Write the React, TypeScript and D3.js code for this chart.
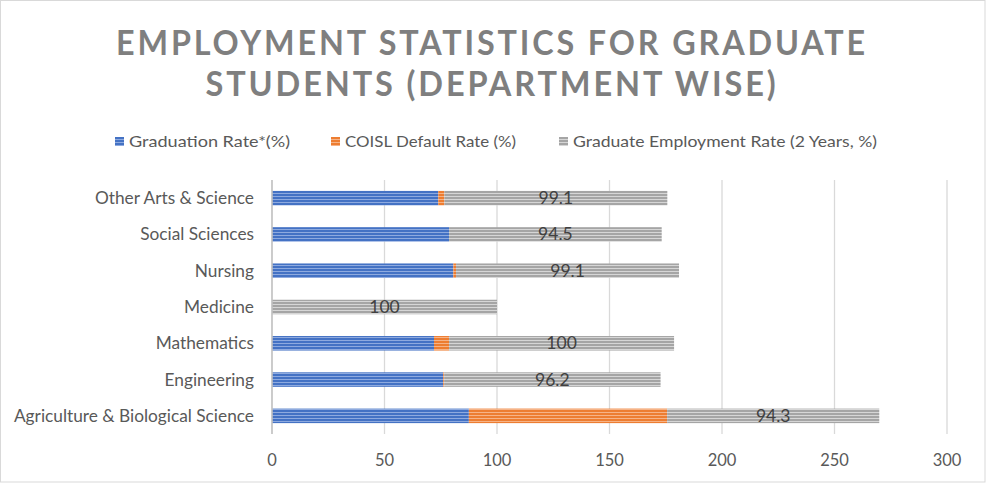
import React, { useRef, useEffect } from 'react';
import * as d3 from 'd3';

// chart data, bottom row first
const categories = [
  'Agriculture & Biological Science',
  'Engineering',
  'Mathematics',
  'Medicine',
  'Nursing',
  'Social Sciences',
  'Other Arts & Science',
];
const graduationRate = [87.5, 76.1, 72, 0, 80.6, 78.7, 73.9];
const defaultRate = [88.1, 0.4, 6.7, 0, 1.2, 0, 2.7];
const employmentRate = [94.3, 96.2, 100, 100, 99.1, 94.5, 99.1];
const seriesNames = ['Graduation Rate*(%)', 'COISL Default Rate (%)', 'Graduate Employment Rate (2 Years, %)'];
const xTicks = [0, 50, 100, 150, 200, 250, 300];
const titleLines = ['EMPLOYMENT STATISTICS FOR GRADUATE', 'STUDENTS (DEPARTMENT WISE)'];

const W = 986;
const H = 484;
const FONT = "Lato, 'Open Sans', sans-serif";

function App() {
  const ref = useRef<SVGSVGElement>(null);

  useEffect(() => {
    if (!ref.current) return;
    const svg = d3.select(ref.current);
    svg.selectAll('*').remove();

    const colors = [
      { base: '#4472c4', light: '#8eaadf' },
      { base: '#ed7d31', light: '#f6b387' },
      { base: '#a5a5a5', light: '#d6d6d6' },
    ];

    // striped fills (Excel narrow horizontal pattern)
    const defs = svg.append('defs');
    colors.forEach((c, i) => {
      const p = defs.append('pattern')
        .attr('id', 'stripe' + i)
        .attr('patternUnits', 'userSpaceOnUse')
        .attr('width', 4).attr('height', 3);
      p.append('rect').attr('width', 4).attr('height', 3).attr('fill', c.base);
      p.append('rect').attr('y', 1).attr('width', 4).attr('height', 1).attr('fill', c.light);
    });

    svg.append('rect')
      .attr('x', 0.5).attr('y', 0.5)
      .attr('width', W - 1.5).attr('height', H - 2.5)
      .attr('fill', 'white').attr('stroke', '#d9d9d9');

    // title
    const titleW = [752, 573];
    svg.selectAll('text.title')
      .data(titleLines)
      .join('text')
      .attr('class', 'title')
      .attr('x', 492)
      .attr('y', (d, i) => 55 + i * 41)
      .attr('text-anchor', 'middle')
      .attr('font-family', FONT)
      .attr('font-weight', 700)
      .attr('font-size', 34)
      .attr('letter-spacing', 3)
      .attr('fill', '#7f7f7f')
      .attr('textLength', (d, i) => titleW[i])
      .attr('lengthAdjust', 'spacingAndGlyphs')
      .text(d => d);

    // legend
    const legendX = [115, 331, 559];
    const legendW = [161, 171, 304];
    const lg = svg.append('g');
    seriesNames.forEach((name, i) => {
      lg.append('rect')
        .attr('x', legendX[i]).attr('y', 137)
        .attr('width', 9).attr('height', 9)
        .attr('fill', `url(#stripe${i})`);
      lg.append('text')
        .attr('x', legendX[i] + 14).attr('y', 147)
        .attr('font-family', FONT)
        .attr('font-size', 15)
        .attr('fill', '#595959')
        .attr('textLength', legendW[i])
        .attr('lengthAdjust', 'spacingAndGlyphs')
        .text(name);
    });

    const x = d3.scaleLinear().domain([0, 300]).range([272, 947]);
    const y = d3.scaleBand<string>()
      .domain(categories)
      .range([434, 180])
      .paddingInner(0.6)
      .paddingOuter(0.3);

    // gridlines
    svg.append('g')
      .selectAll('line')
      .data(xTicks.slice(1))
      .join('line')
      .attr('x1', d => x(d)).attr('x2', d => x(d))
      .attr('y1', 180).attr('y2', 434)
      .attr('stroke', '#d9d9d9')
      .attr('stroke-width', 1.3);

    // tick labels
    svg.append('g')
      .selectAll('text')
      .data(xTicks)
      .join('text')
      .attr('x', d => x(d))
      .attr('y', 466)
      .attr('text-anchor', 'middle')
      .attr('font-family', FONT)
      .attr('font-size', 16.5)
      .attr('fill', '#595959')
      .text(d => d);

    // stacked series
    const rows = categories.map((c, i) => ({
      cat: c, grad: graduationRate[i], def: defaultRate[i], emp: employmentRate[i],
    }));
    const stack = d3.stack<any>().keys(['grad', 'def', 'emp']);
    const layers = stack(rows);

    layers.forEach((layer, li) => {
      svg.append('g')
        .selectAll('rect')
        .data(layer.filter(d => d[1] - d[0] > 0))
        .join('rect')
        .attr('x', d => x(d[0]))
        .attr('width', d => x(d[1]) - x(d[0]))
        .attr('y', d => y(d.data.cat)!)
        .attr('height', y.bandwidth())
        .attr('fill', `url(#stripe${li})`);
    });

    // data labels on the employment series
    const empLayer = layers[2];
    svg.append('g')
      .selectAll('text')
      .data(empLayer)
      .join('text')
      .attr('x', d => x((d[0] + d[1]) / 2))
      .attr('y', d => y(d.data.cat)! + y.bandwidth() / 2 + 6)
      .attr('text-anchor', 'middle')
      .attr('font-family', FONT)
      .attr('font-size', 17.5)
      .attr('fill', '#404040')
      .text(d => d.data.emp);

    // category axis
    svg.append('line')
      .attr('x1', 272).attr('x2', 272)
      .attr('y1', 180).attr('y2', 434)
      .attr('stroke', '#bfbfbf')
      .attr('stroke-width', 1.6);

    svg.append('g')
      .selectAll('text')
      .data(categories)
      .join('text')
      .attr('x', 254)
      .attr('y', d => y(d)! + y.bandwidth() / 2 + 6)
      .attr('text-anchor', 'end')
      .attr('font-family', FONT)
      .attr('font-size', 17.3)
      .attr('fill', '#595959')
      .text(d => d);
  }, []);

  return (
    <div style={{ position: 'absolute', left: 0, top: 0 }}>
      <svg ref={ref} width={W} height={H} style={{ display: 'block' }} />
    </div>
  );
}

export default App;
